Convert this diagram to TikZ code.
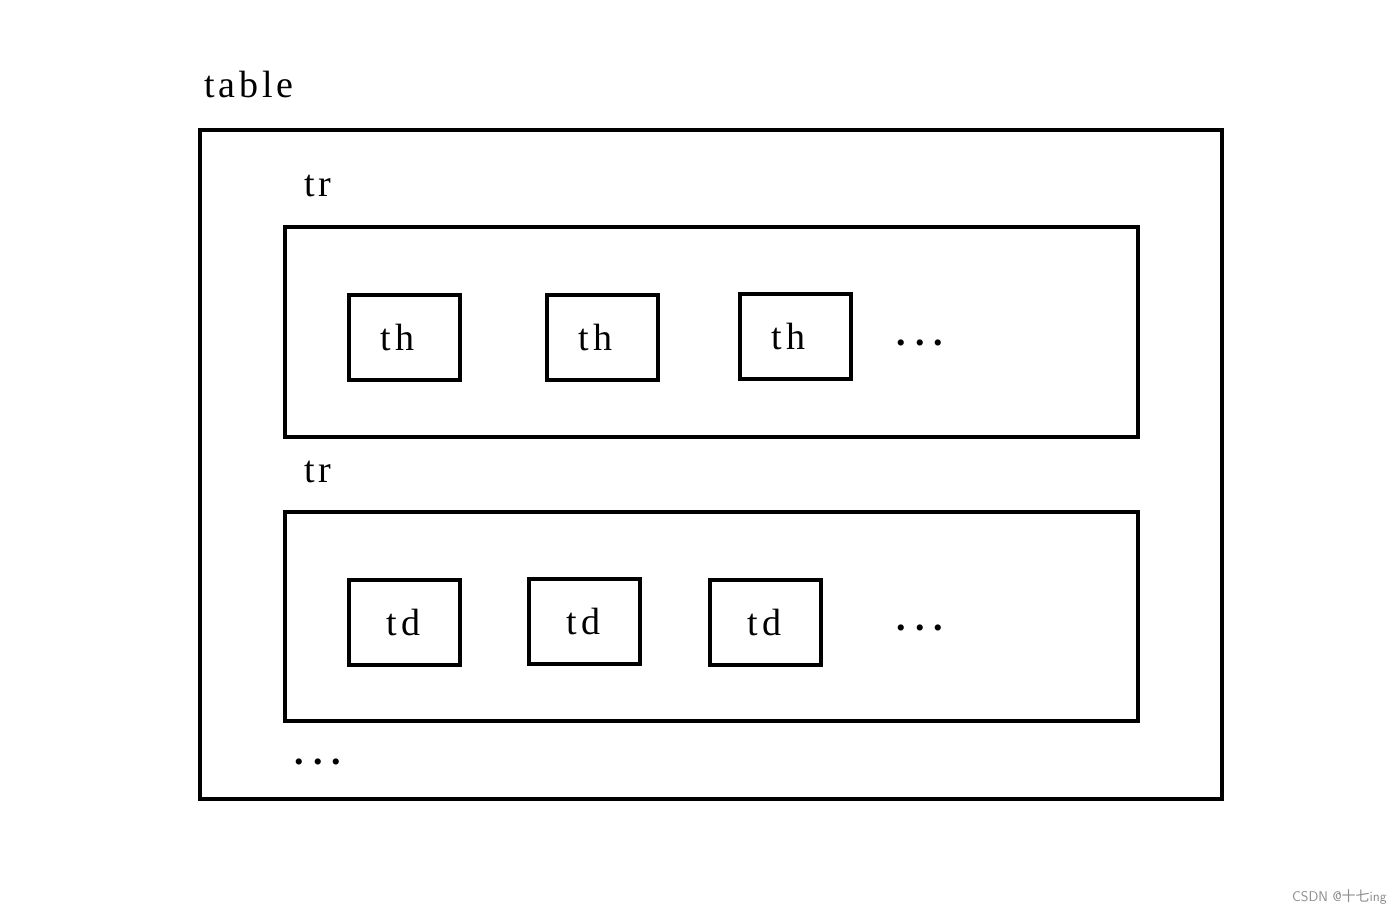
\documentclass[tikz,border=0pt]{standalone}
\usepackage{fontspec}
\setmainfont{Liberation Serif}
\newfontfamily\wide[LetterSpace=10]{Liberation Serif}
\newfontfamily\cjk{Noto Sans CJK SC}
\newcommand{\tdots}{.\hspace{9pt}.\hspace{9pt}.}
\begin{document}
\begin{tikzpicture}[x=1pt,y=-1pt,
  frame/.style={draw=black,line width=3.2pt},
  cell/.style={draw=black,line width=3.2pt,minimum width=111pt,minimum height=85pt,inner sep=0pt,font=\wide\fontsize{38}{44}\selectfont},
  lbl/.style={inner sep=0pt,font=\wide\fontsize{38}{44}\selectfont},
  dots/.style={inner sep=0pt,anchor=base,font=\bfseries\fontsize{38}{44}\selectfont}]
\useasboundingbox (0,0) rectangle (1400,912);
\fill[white] (0,0) rectangle (1400,912);
% outer table
\draw[frame] (200,130) rectangle (1222,799);
\node[lbl,anchor=base west] (tablelbl) at (204,98) {table};
% row 1
\draw[frame] (285,227) rectangle (1138,437);
\node[lbl,anchor=base] (tr1) at (318,197) {tr};
\node[cell] (th1) at (404.5,337.5) {th\hspace*{14pt}};
\node[cell] (th2) at (602.5,337.5) {th\hspace*{14pt}};
\node[cell] (th3) at (795.5,336.5) {th\hspace*{14pt}};
\node[dots] (d1) at (920,345) {\tdots};
% row 2
\draw[frame] (285,512) rectangle (1138,721);
\node[lbl,anchor=base] (tr2) at (318,482) {tr};
\node[cell] (td1) at (404.5,622.5) {td\hspace*{2pt}};
\node[cell] (td2) at (584.5,621.5) {td\hspace*{2pt}};
\node[cell] (td3) at (765.5,622.5) {td\hspace*{2pt}};
\node[dots] (d2) at (920,630) {\tdots};
\node[dots] (d3) at (318,764) {\tdots};
% watermark
\node[inner sep=0pt,anchor=east,text=black!45,font=\fontsize{14}{16}\selectfont\sffamily] (wm) at (1387,897) {CSDN @{\cjk 十七}ing};
\end{tikzpicture}
\end{document}
